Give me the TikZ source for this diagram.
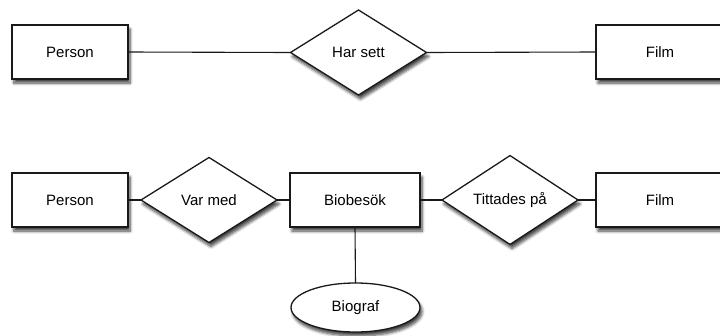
\documentclass[tikz,border=0pt]{standalone}
\usepackage{fontspec}
\setmainfont{Liberation Sans}
\usetikzlibrary{shapes.geometric,shadows.blur}
\begin{document}
\begin{tikzpicture}[x=1pt,y=-1pt,
  base/.style={draw=black!90,line width=1.3pt,fill=white,outer sep=0pt,inner sep=0pt,
    font=\fontsize{15}{17}\selectfont,
    blur shadow={shadow xshift=2pt,shadow yshift=-4pt,shadow blur steps=6,shadow blur radius=3pt,shadow opacity=75}},
  entity/.style={base,rectangle,minimum height=54pt},
  rel/.style={base,diamond,minimum width=136pt,minimum height=85pt},
  attr/.style={base,ellipse,minimum width=129pt,minimum height=49pt},
  conn/.style={draw=black!90,line width=1.1pt}]
\useasboundingbox (0,0) rectangle (720,335);
% top row
\node[entity,minimum width=116pt] (p1) at (70,52) {Person};
\node[rel] (hs) at (358.5,52.5) {Har sett};
\node[entity,minimum width=128pt] (f1) at (660,52) {Film};
% bottom row
\node[entity,minimum width=116pt] (p2) at (70,200) {Person};
\node[rel] (vm) at (209,200) {Var med};
\node[entity,minimum width=130pt] (bb) at (355,200) {Biobesök};
\node[rel] (tp) at (510,200) {Tittades på};
\node[entity,minimum width=128pt] (f2) at (660,200) {Film};
\node[attr] (bg) at (355.5,307.5) {Biograf};
% connectors
\draw[conn] (p1.east) -- (hs.west);
\draw[conn] (hs.east) -- (f1.west);
\draw[conn] (p2.east) -- (vm.west);
\draw[conn] (vm.east) -- (bb.west);
\draw[conn] (bb.east) -- (tp.west);
\draw[conn] (tp.east) -- (f2.west);
\draw[conn] (bb.south) -- (bg.north);
\end{tikzpicture}
\end{document}
